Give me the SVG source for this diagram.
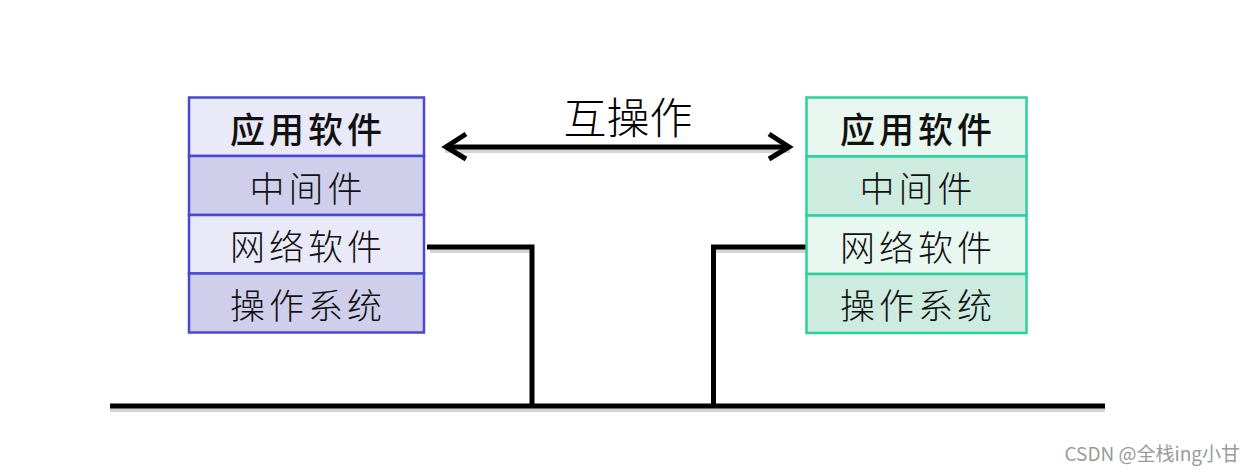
<svg xmlns="http://www.w3.org/2000/svg" width="1256" height="472" viewBox="0 0 1256 472">
<style>
.t{font-family:"Noto Sans CJK SC","Noto Sans",sans-serif;font-size:35px;font-weight:300;letter-spacing:4px;text-anchor:middle;dominant-baseline:central;fill:#111}
.b{font-weight:500}
.ln{fill:none;stroke:#000;stroke-width:5}
.sh{fill:none;stroke:#d4d4d4;stroke-width:4}
.lb rect{stroke:#4848d0;stroke-width:2.5}
.rb rect{stroke:#2ccf9e;stroke-width:2.5}
.l1{fill:#e9e9f7}.l2{fill:#cfcfec}
.r1{fill:#e8f7f0}.r2{fill:#cdebdf}
</style>
<rect width="1256" height="472" fill="#fff"/>
<g id="connectors">
<path class="sh" d="M110,410 H1105 M430,251 H530 M715,251 H806 M445,151 H790"/>
<path class="ln" d="M110,406 H1105"/>
<path class="ln" d="M427,247 H532 V406"/>
<path class="ln" d="M806,247 H713.5 V406"/>
<path class="ln" d="M448,147 H787"/>
<path class="ln" d="M466,134 L446,147 L466,159"/>
<path class="ln" d="M769,134 L789,147 L769,159"/>
</g>
<g id="label-interop">
<text x="628" y="115" style="font-family:'Noto Sans CJK SC','Noto Sans',sans-serif;font-size:43px;font-weight:300;text-anchor:middle;dominant-baseline:central;fill:#000">互操作</text>
</g>
<g id="left-stack" class="lb">
<rect class="l1" x="189" y="97.5" width="235" height="58.5"/>
<rect class="l2" x="189" y="156" width="235" height="59"/>
<rect class="l1" x="189" y="215" width="235" height="58.5"/>
<rect class="l2" x="189" y="273.5" width="235" height="59"/>
<text class="t b" x="308" y="127">应用软件</text>
<text class="t" x="308" y="186">中间件</text>
<text class="t" x="308" y="244">网络软件</text>
<text class="t" x="308" y="303">操作系统</text>
</g>
<g id="right-stack" class="rb">
<rect class="r1" x="806.5" y="97.5" width="220" height="59"/>
<rect class="r2" x="806.5" y="156.5" width="220" height="59"/>
<rect class="r1" x="806.5" y="215.5" width="220" height="58.5"/>
<rect class="r2" x="806.5" y="274" width="220" height="59"/>
<text class="t b" x="918" y="127">应用软件</text>
<text class="t" x="918" y="186">中间件</text>
<text class="t" x="918" y="245">网络软件</text>
<text class="t" x="918" y="303">操作系统</text>
</g>
<text x="1240" y="452" style="font-family:'Noto Sans CJK SC','Noto Sans',sans-serif;font-size:19px;text-anchor:end;dominant-baseline:central;fill:#9a9a9a">CSDN @全栈ing小甘</text>
</svg>
